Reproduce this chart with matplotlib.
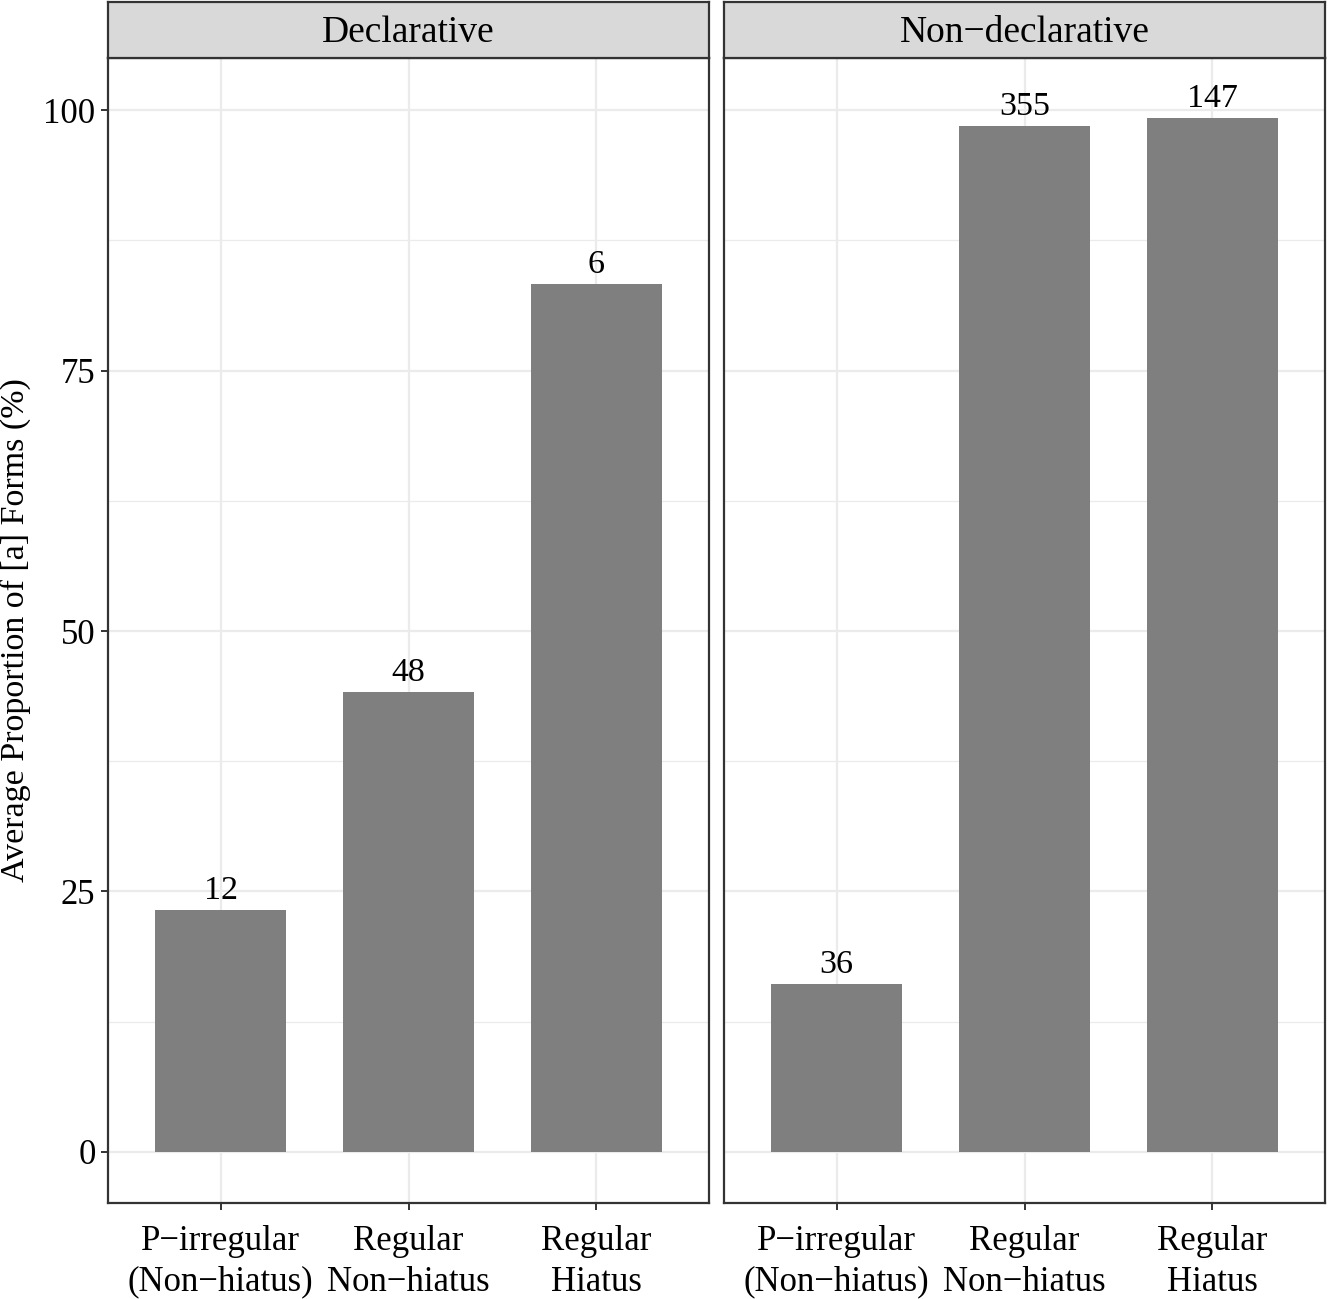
import matplotlib.pyplot as plt

# data
facets = ["Declarative", "Non\u2212declarative"]
categories = ["P\u2212irregular\n(Non\u2212hiatus)", "Regular\nNon\u2212hiatus", "Regular\nHiatus"]
decl_values = [23.2, 44.1, 83.3]
nondecl_values = [16.1, 98.5, 99.2]
decl_counts = ["12", "48", "6"]
nondecl_counts = ["36", "355", "147"]

plt.rcParams['font.family'] = ['Liberation Serif', 'DejaVu Serif']

W, H = 1328, 1299
fig = plt.figure(figsize=(W / 100, H / 100), dpi=100)

border = "#333333"
bar_color = "#7f7f7f"
strip_fill = "#d9d9d9"

panels = [(108, 709), (724, 1325)]
top_px, bot_px, strip_top = 58, 1203, 2
series = [(decl_values, decl_counts), (nondecl_values, nondecl_counts)]

x = list(range(1, len(categories) + 1))
for i, ((l, r), (vals, counts)) in enumerate(zip(panels, series)):
    ax = fig.add_axes([l / W, 1 - bot_px / H, (r - l) / W, (bot_px - top_px) / H])
    ax.bar(x, vals, width=0.7, color=bar_color, zorder=2)
    for xi, v, c in zip(x, vals, counts):
        ax.annotate(c, (xi, v), xytext=(0, 8), textcoords="offset points",
                    ha="center", va="baseline", fontsize=24.5, zorder=3)
    ax.set_xlim(0.4, 3.6)
    ax.set_ylim(-4.9, 105.0)
    ax.set_yticks([0, 25, 50, 75, 100])
    ax.set_yticks([12.5, 37.5, 62.5, 87.5], minor=True)
    ax.set_xticks(x)
    ax.set_xticklabels(categories, fontsize=24.5, linespacing=1.3)
    ax.grid(which="major", color="#ebebeb", linewidth=1.6, zorder=0)
    ax.grid(which="minor", axis="y", color="#ebebeb", linewidth=0.9, zorder=0)
    ax.set_axisbelow(True)
    ax.tick_params(axis="x", which="major", pad=11)
    ax.tick_params(axis="both", which="major", length=5, width=1.4, color=border,
                   labelsize=25, labelcolor="black")
    ax.tick_params(axis="y", which="major", pad=4)
    ax.tick_params(axis="y", which="minor", length=0)
    if i == 0:
        ax.set_yticklabels(["0", "25", "50", "75", "100"])
        ax.set_ylabel("Average Proportion of [a] Forms (%)", fontsize=24.5, labelpad=9)
    else:
        ax.tick_params(axis="y", which="major", length=0, labelleft=False)
    for s in ax.spines.values():
        s.set_color(border)
        s.set_linewidth(1.6)

    # facet strip
    sax = fig.add_axes([l / W, 1 - top_px / H, (r - l) / W, (top_px - strip_top) / H])
    sax.set_xticks([])
    sax.set_yticks([])
    sax.set_facecolor(strip_fill)
    for s in sax.spines.values():
        s.set_color(border)
        s.set_linewidth(1.6)
    sax.text(0.5, 0.45, facets[i], ha="center", va="center", fontsize=27,
             transform=sax.transAxes)

fig.savefig("out.png", dpi=100)
